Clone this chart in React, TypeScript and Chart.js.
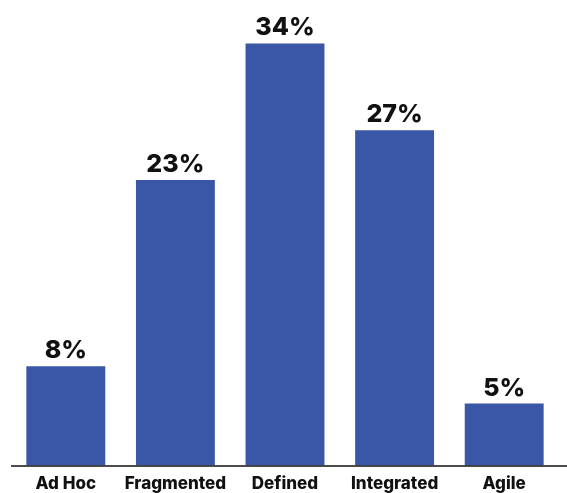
import React, { useEffect, useRef } from "react";
import { Chart, registerables } from "chart.js";

Chart.register(...registerables);

const categories = ["Ad Hoc", "Fragmented", "Defined", "Integrated", "Agile"];
const values = [8, 23, 34, 27, 5];
const valueLabels = values.map((v) => `${v}%`);

const BAR_COLOR = "#3a56a6";

const valueLabelPlugin = {
  id: "valueLabels",
  afterDatasetsDraw(chart: any) {
    const { ctx } = chart;
    const meta = chart.getDatasetMeta(0);
    ctx.save();
    ctx.font = "800 25px Inter, 'DejaVu Sans', sans-serif";
    ctx.fillStyle = "#111111";
    ctx.textAlign = "center";
    ctx.textBaseline = "alphabetic";
    meta.data.forEach((bar: any, i: number) => {
      ctx.fillText(valueLabels[i], bar.x, bar.y - 8);
    });
    ctx.restore();
  },
};

const baselinePlugin = {
  id: "baseline",
  afterDraw(chart: any) {
    const { ctx, chartArea } = chart;
    ctx.save();
    ctx.strokeStyle = "#111111";
    ctx.lineWidth = 1.5;
    ctx.beginPath();
    ctx.moveTo(chartArea.left, chartArea.bottom + 0.5);
    ctx.lineTo(chart.width, chartArea.bottom + 0.5);
    ctx.stroke();
    ctx.restore();
  },
};

export default function App() {
  const canvasRef = useRef<HTMLCanvasElement>(null);

  useEffect(() => {
    if (!canvasRef.current) return;
    const chart = new Chart(canvasRef.current, {
      type: "bar",
      data: {
        labels: categories,
        datasets: [
          {
            data: values,
            backgroundColor: BAR_COLOR,
            borderWidth: 0,
            barPercentage: 0.72,
            categoryPercentage: 1,
          },
        ],
      },
      options: {
        animation: false,
        responsive: false,
        maintainAspectRatio: false,
        layout: { padding: { left: 11, right: 8, top: 31, bottom: -9 } },
        plugins: {
          legend: { display: false },
          tooltip: { enabled: false },
        },
        scales: {
          y: {
            display: false,
            min: 0,
            max: 35,
          },
          x: {
            grid: { display: false, drawTicks: false },
            border: { display: false },
            ticks: {
              color: "#111111",
              padding: 8,
              font: { family: "Inter, 'DejaVu Sans', sans-serif", size: 17, weight: 800 },
            },
          },
        },
      },
      plugins: [valueLabelPlugin, baselinePlugin],
    });
    return () => chart.destroy();
  }, []);

  return (
    <div style={{ position: "fixed", left: 0, top: 0, width: 567, height: 493, background: "#ffffff" }}>
      <canvas ref={canvasRef} width={567} height={493} style={{ display: "block" }} />
    </div>
  );
}
